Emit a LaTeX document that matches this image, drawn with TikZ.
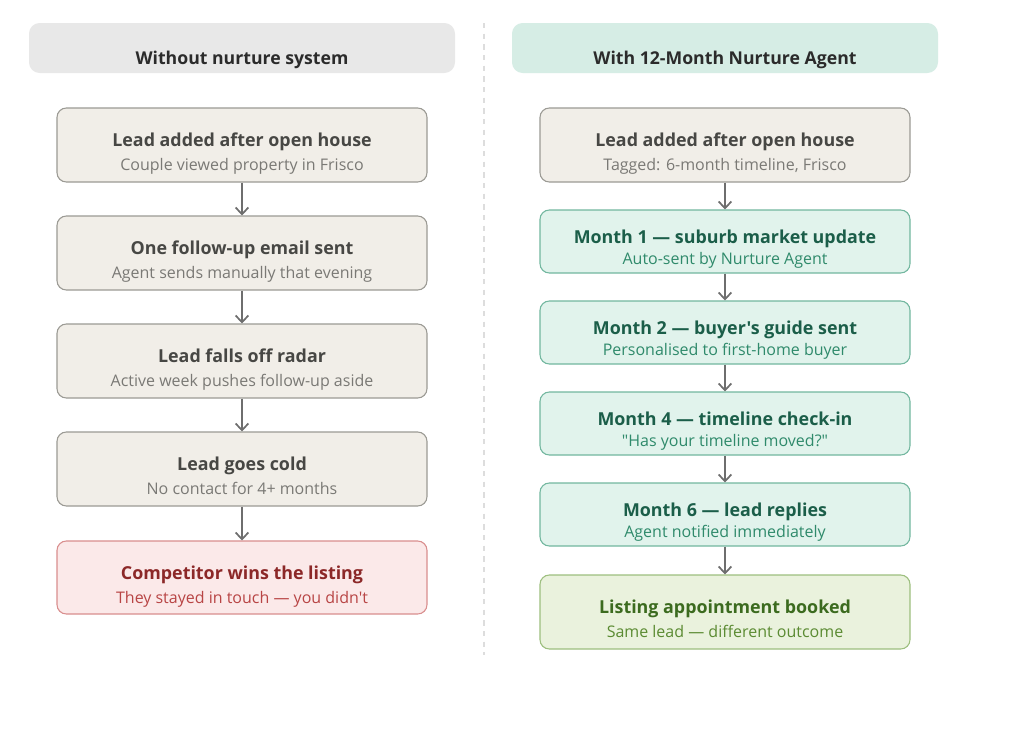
\documentclass[tikz,border=0pt]{standalone}
\usepackage{fontspec}
\setmainfont{Open Sans}[Ligatures=TeXOff]
\usetikzlibrary{arrows.meta}
\definecolor{hdrgray}{HTML}{E8E8E8}
\definecolor{hdrteal}{HTML}{D6EDE5}
\definecolor{hdrtext}{HTML}{2B2B2B}
\definecolor{beigefill}{HTML}{F1EEE8}
\definecolor{beigedraw}{HTML}{9B9A94}
\definecolor{beigetitle}{HTML}{474744}
\definecolor{beigesub}{HTML}{7A7975}
\definecolor{tealfill}{HTML}{E1F3EC}
\definecolor{tealdraw}{HTML}{72B79F}
\definecolor{tealtitle}{HTML}{1B5E49}
\definecolor{tealsub}{HTML}{2F8A6B}
\definecolor{redfill}{HTML}{FBE9E9}
\definecolor{reddraw}{HTML}{D98E8E}
\definecolor{redtitle}{HTML}{8C2828}
\definecolor{redsub}{HTML}{B84545}
\definecolor{grnfill}{HTML}{EAF2DD}
\definecolor{grndraw}{HTML}{9DBF7E}
\definecolor{grntitle}{HTML}{3C6B1F}
\definecolor{grnsub}{HTML}{5B8B32}
\definecolor{arrowgray}{HTML}{6E6E6E}
\definecolor{divider}{HTML}{DDDDDD}
\tikzset{
  box/.style={rectangle, rounded corners=7pt, line width=0.8pt, minimum width=277.5pt, inner sep=0pt},
  beigebox/.style={box, fill=beigefill, draw=beigedraw},
  tealbox/.style={box, fill=tealfill, draw=tealdraw},
  redbox/.style={box, fill=redfill, draw=reddraw},
  grnbox/.style={box, fill=grnfill, draw=grndraw},
  header/.style={rectangle, rounded corners=8pt, minimum width=319.5pt, minimum height=37.5pt, inner sep=0pt},
  hdrlabel/.style={font=\fontsize{13.25}{15}\selectfont\bfseries, text=hdrtext, anchor=base, inner sep=0pt},
  ttl/.style={font=\fontsize{13.4}{15}\selectfont\bfseries, anchor=base, inner sep=0pt},
  sub/.style={font=\fontsize{12}{14}\selectfont, anchor=base, inner sep=0pt},
  flow/.style={draw=arrowgray, line width=1.3pt, -{Straight Barb[length=5pt,width=9.5pt,line width=1.3pt]}},
}
% tall box: title baseline top+38, sub baseline top+62
\newcommand\flowbox[8]{%
  \node[#5, minimum height=#4*0.75pt] (#1) at (#2,#3+#4/2) {};
  \node[ttl, text=#6title] (#1t) at (#2,#3+38) {#7};
  \node[sub, text=#6sub] (#1s) at (#2,#3+62) {#8};
}
% short box: title baseline top+33, sub baseline top+54
\newcommand\flowboxs[8]{%
  \node[#5, minimum height=#4*0.75pt] (#1) at (#2,#3+#4/2) {};
  \node[ttl, text=#6title] (#1t) at (#2,#3+33) {#7};
  \node[sub, text=#6sub] (#1s) at (#2,#3+54) {#8};
}
\begin{document}
\begin{tikzpicture}[x=0.75pt,y=-0.75pt]
\useasboundingbox[fill=white] (0,0) rectangle (1024,740);
% divider
\draw[divider, line width=0.8pt, dash pattern=on 4pt off 4pt] (484,23) coordinate (dtop) -- (484,655) coordinate (dbot);
% headers
\node[header, fill=hdrgray] (hl) at (242,48) {};
\node[hdrlabel] (hlt) at (242,64) {Without nurture system};
\node[header, fill=hdrteal] (hr) at (725,48) {};
\node[hdrlabel] (hrt) at (725,64) {With 12-Month Nurture Agent};
% left column
\flowbox{l1}{242}{108}{74}{beigebox}{beige}{Lead added after open house}{Couple viewed property in Frisco}
\flowbox{l2}{242}{216}{74}{beigebox}{beige}{One follow-up email sent}{Agent sends manually that evening}
\flowbox{l3}{242}{324}{74}{beigebox}{beige}{Lead falls off radar}{Active week pushes follow-up aside}
\flowbox{l4}{242}{432}{74}{beigebox}{beige}{Lead goes cold}{No contact for 4+ months}
\flowbox{l5}{242}{541}{73}{redbox}{red}{Competitor wins the listing}{They stayed in touch — you didn't}
% right column
\flowbox{r1}{725}{108}{74}{beigebox}{beige}{Lead added after open house}{Tagged: 6-month timeline, Frisco}
\flowboxs{r2}{725}{210}{63}{tealbox}{teal}{Month 1 — suburb market update}{Auto-sent by Nurture Agent}
\flowboxs{r3}{725}{301}{63}{tealbox}{teal}{Month 2 — buyer's guide sent}{Personalised to first-home buyer}
\flowboxs{r4}{725}{392}{63}{tealbox}{teal}{Month 4 — timeline check-in}{"Has your timeline moved?"}
\flowboxs{r5}{725}{483}{63}{tealbox}{teal}{Month 6 — lead replies}{Agent notified immediately}
\flowbox{r6}{725}{575}{74}{grnbox}{grn}{Listing appointment booked}{Same lead — different outcome}
% connectors
\foreach \a/\b in {l1/l2,l2/l3,l3/l4,l4/l5,r1/r2,r2/r3,r3/r4,r4/r5,r5/r6}
  \draw[flow] (\a.south) -- (\b.north);
\end{tikzpicture}
\end{document}
